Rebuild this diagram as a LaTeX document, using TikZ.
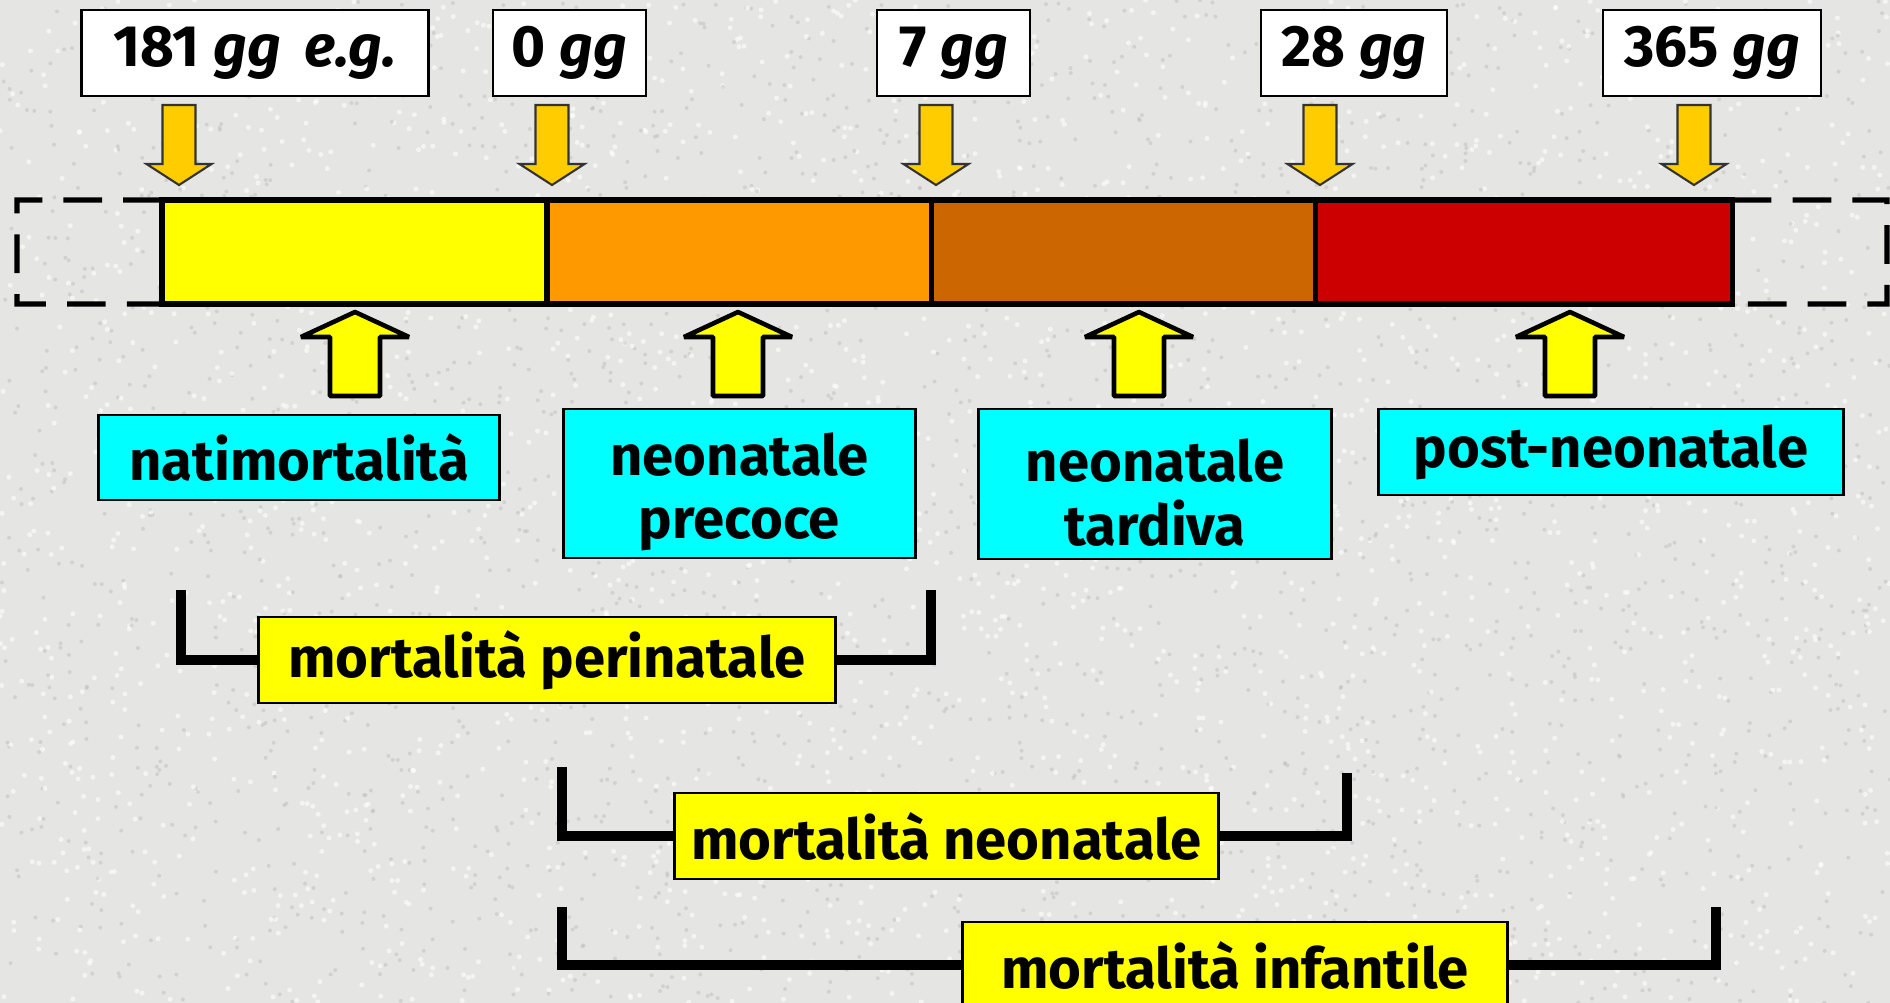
\documentclass[tikz,border=0pt]{standalone}
\usepackage{fontspec}
\setmainfont{Fira Sans}
\usepackage{tikz}
\usetikzlibrary{calc,positioning}
\usepackage{xcolor}
\definecolor{bggray}{RGB}{229,229,227}
\definecolor{gold}{RGB}{255,204,0}
\definecolor{segyellow}{RGB}{255,255,0}
\definecolor{segorange}{RGB}{255,153,0}
\definecolor{segbrown}{RGB}{204,102,0}
\definecolor{segred}{RGB}{204,0,0}
\definecolor{boxcyan}{RGB}{0,255,255}
\tikzset{
  every node/.style={font=\fontsize{16}{18}\selectfont\bfseries}
}

\begin{document}
\begin{tikzpicture}[x=0.01cm,y=-0.01cm] % one unit = one pixel of the slide, y goes down
  % Define styles
  \tikzset{
    datebox/.style={
      draw=black,
      fill=white,
      line width=0.8pt,
      minimum height=0.86cm,
      inner sep=0pt,
      font=\fontsize{16.6}{18}\selectfont\bfseries
    },
    agebox/.style={
      draw=black,
      fill=boxcyan,
      line width=0.8pt,
      align=center,
      inner sep=0pt
    },
    ratebox/.style={
      draw=black,
      fill=segyellow,
      line width=0.8pt,
      minimum height=0.86cm,
      inner sep=0pt
    },
    barseg/.style={
      draw=black,
      line width=1.5pt,
      minimum height=1.04cm,
      inner sep=0pt,
      outer sep=0pt
    },
    stub/.style={
      draw=black,
      line width=1.5pt,
      dash pattern=on 11pt off 6pt
    },
    bracket/.style={
      draw=black,
      line width=2.8pt
    },
    dnarrow/.pic={
      \filldraw[fill=gold, draw=black!80, line width=0.6pt]
        (-16.5,0) -- (16.5,0) -- (16.5,59) -- (32.5,59) -- (0,80)
        -- (-32.5,59) -- (-16.5,59) -- cycle;
    },
    uparrow/.pic={
      \filldraw[fill=segyellow, draw=black, line width=1.3pt, line join=bevel]
        (0,0) -- (54,25) -- (25,25) -- (25,84) -- (-25,84)
        -- (-25,25) -- (-54,25) -- cycle;
    }
  }

  \useasboundingbox (0,0) rectangle (1890,1003);
  \clip (0,0) rectangle (1890,1003);
  \fill[bggray] (0,0) rectangle (1890,1003);

  % Granite look of the slide
  \pgfmathsetseed{7}
  \foreach \k in {1,...,2500} {
    \fill[white, opacity=0.6] (rnd*1890,rnd*1003) circle (2.5);
    \fill[black!25, opacity=0.5] (rnd*1890,rnd*1003) circle (2);
  }

  % The time bar
  \node[barseg, fill=segyellow, minimum width=3.85cm] (s1) at (354.5,252) {};
  \node[barseg, fill=segorange, minimum width=3.84cm, right=0pt of s1] (s2) {};
  \node[barseg, fill=segbrown, minimum width=3.84cm, right=0pt of s2] (s3) {};
  \node[barseg, fill=segred, minimum width=4.17cm, right=0pt of s3] (s4) {};

  % Dashed stubs on both sides
  \draw[stub] (s1.north west) -- (17,200) -- (17,304) -- (s1.south west);
  \draw[stub] (s4.north east) -- (1887,200) -- (1887,304) -- (s4.south east);

  % Dates above the bar
  \node[datebox, minimum width=3.46cm] (d1) at (255,53) {181 \textit{gg}\hspace{0.4em}\textit{e.g.}};
  \node[datebox, minimum width=1.53cm] (d2) at (569.5,53) {0 \textit{gg}};
  \node[datebox, minimum width=1.53cm] (d3) at (953.5,53) {7 \textit{gg}};
  \node[datebox, minimum width=1.86cm] (d4) at (1354,53) {28 \textit{gg}};
  \node[datebox, minimum width=2.18cm] (d5) at (1712,53) {365 \textit{gg}};

  \foreach \x in {179,552,936,1320,1694} {
    \pic at (\x,105) {dnarrow};
  }

  % Periods below the bar
  \foreach \x in {355,738,1139,1570} {
    \pic at (\x,312) {uparrow};
  }

  \node[agebox, minimum width=4cm, minimum height=0.85cm] (a1) at (299,457.5) {natimortalità};
  \node[agebox, minimum width=3.51cm, minimum height=1.49cm] (a2) at (739.5,483.5) {\rule{0pt}{17pt}neonatale\\precoce};
  \node[agebox, minimum width=3.52cm, minimum height=1.5cm] (a3) at (1155,484) {\rule{0pt}{17pt}neonatale\\tardiva};
  \node[agebox, minimum width=4.64cm, minimum height=0.86cm] (a4) at (1611,452) {post-neonatale};

  % Rates and their brackets
  \node[ratebox, minimum width=5.76cm] (peri) at (547,660) {mortalità perinatale};
  \node[ratebox, minimum width=5.43cm] (neo) at (946.5,836) {mortalità neonatale};
  \node[ratebox, minimum width=5.44cm] (inf) at (1235,965) {mortalità infantile};

  \coordinate (periL) at (181,590);
  \coordinate (periR) at (931,590);
  \coordinate (neoL) at (562,767);
  \coordinate (neoR) at (1347,773);
  \coordinate (infL) at (562,907);
  \coordinate (infR) at (1716,907);

  \draw[bracket] (periL) |- (peri.west);
  \draw[bracket] (peri.east) -| (periR);
  \draw[bracket] (neoL) |- (neo.west);
  \draw[bracket] (neo.east) -| (neoR);
  \draw[bracket] (infL) |- (inf.west);
  \draw[bracket] (inf.east) -| (infR);
\end{tikzpicture}
\end{document}
